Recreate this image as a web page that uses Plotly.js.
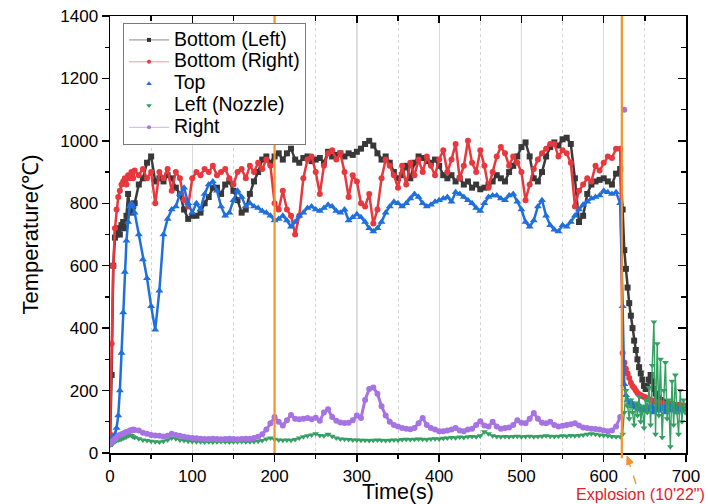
<!DOCTYPE html>
<html>
<head>
<meta charset="utf-8">
<script src="https://cdn.plot.ly/plotly-3.0.1.min.js"></script>
<style>
  html, body { margin: 0; padding: 0; background: #fff; }
  #chart { width: 708px; height: 504px; }
</style>
</head>
<body>
<div id="chart"></div>
<script>
// Time stamps (s): 2 s steps during heat-up, 5 s steps while burning, 2 s after the explosion
const timeS = [
  0, 2, 4, 6, 8, 10, 12, 14, 16, 18, 20, 22, 24, 26, 28, 30,
  35, 40, 45, 50, 55, 60, 65, 70, 75, 80, 85, 90, 95, 100,
  105, 110, 115, 120, 125, 130, 135, 140, 145, 150, 155, 160, 165, 170, 175, 180, 185, 190, 195, 200,
  205, 210, 215, 220, 225, 230, 235, 240, 245, 250, 255, 260, 265, 270, 275, 280, 285, 290, 295, 300,
  305, 310, 315, 320, 325, 330, 335, 340, 345, 350, 355, 360, 365, 370, 375, 380, 385, 390, 395, 400,
  405, 410, 415, 420, 425, 430, 435, 440, 445, 450, 455, 460, 465, 470, 475, 480, 485, 490, 495, 500,
  505, 510, 515, 520, 525, 530, 535, 540, 545, 550, 555, 560, 565, 570, 575, 580, 585, 590, 595, 600,
  605, 610, 615, 620,
  623, 625, 627, 629, 631, 633, 635, 637, 639, 641, 643, 645, 647, 649, 651, 653, 655, 657, 659, 661,
  663, 665, 667, 669, 671, 673, 675, 677, 679, 681, 683, 685, 687, 689, 691, 693, 695, 697, 699
];

// Temperatures (°C) per thermocouple
const tempBottomLeft = [
  30, 250, 600, 690, 700, 720, 700, 730, 740, 720, 760, 830, 790, 770, 790, 800,
  860, 880, 930, 950, 870, 880, 870, 890, 880, 850, 830, 780, 750, 760,
  760, 770, 800, 820, 850, 850, 830, 860, 870, 840, 810, 770, 780, 830, 870, 900, 940, 950, 930, 950,
  960, 940, 960, 975, 940, 930, 945, 950, 935, 940, 945, 930, 965, 950, 955, 960, 950, 960, 955, 965,
  975, 990, 1000, 985, 960, 940, 950, 930, 900, 880, 890, 920, 880, 930, 950, 945, 935, 930, 940, 920,
  890, 880, 890, 870, 880, 860, 870, 850, 860, 845, 850, 860, 870, 890, 880, 870, 900, 920, 950, 980,
  995, 950, 880, 870, 900, 950, 980, 995, 985, 1005, 1010, 990, 880, 740, 760, 830, 860, 870, 875, 880,
  870, 860, 895, 910,
  780, 650, 590, 530, 480, 440, 400, 360, 330, 300, 275, 255, 235, 215, 205, 210, 235, 250, 230, 205,
  190, 180, 175, 170, 165, 162, 160, 158, 156, 157, 155, 154, 153, 152, 152, 150, 150, 149, 148
];

const tempBottomRight = [
  60, 350, 600, 720, 780, 820, 840, 860, 870, 880, 860, 890, 880, 900, 880, 905,
  890, 910, 880, 900, 800, 900, 880, 910, 840, 900, 880, 810, 790, 880,
  900, 890, 910, 900, 920, 890, 900, 910, 880, 860, 900, 910, 880, 920, 900, 930, 910, 940, 920, 800,
  780, 840, 780, 760, 700, 760, 880, 940, 950, 900, 830, 920, 960, 970, 940, 960, 900, 820, 890, 870,
  800, 790, 830, 735, 780, 880, 940, 920, 890, 850, 920, 860, 930, 890, 940, 900, 950, 920, 890, 940,
  970, 900, 940, 990, 880, 920, 1000, 930, 900, 970, 920, 850, 900, 950, 980, 960, 920, 950, 930, 900,
  810, 860, 910, 940, 960, 975, 990, 990, 950, 970, 960, 930, 790, 840, 860, 880, 870, 920, 905, 930,
  950, 945, 975, 975,
  320, 290, 270, 255, 240, 225, 215, 208, 200, 192, 188, 185, 182, 180, 178, 175, 172, 170, 168, 165,
  163, 162, 160, 160, 158, 158, 157, 156, 156, 155, 155, 154, 154, 153, 153, 152, 152, 151, 151
];

const tempTop = [
  40, 45, 50, 60, 80, 120, 200, 320, 450, 580, 680, 740, 790, 800, 790, 770,
  700, 620, 560, 470, 395, 520, 700, 750, 780, 790, 830, 850, 800, 770,
  800, 780, 830, 860, 870, 840, 790, 760, 770, 810, 840, 820, 790, 800, 790, 785, 775, 770, 760, 745,
  750, 760, 745, 725, 740, 760, 770, 785, 790, 780, 775, 785, 795, 790, 775, 770, 780, 745, 755, 765,
  755, 740, 720, 710, 720, 740, 770, 790, 805, 800, 790, 800, 815, 830, 820, 800, 790, 795, 805, 810,
  815, 820, 805, 835, 830, 820, 810, 800, 785, 775, 800, 820, 825, 825, 815, 810, 825, 830, 805, 780,
  740, 725, 745, 790, 810, 760, 730, 715, 710, 730, 725, 740, 760, 780, 795, 805, 815, 820, 825, 840,
  835, 830, 835, 800,
  470, 220, 185, 170, 160, 165, 150, 155, 145, 150, 140, 148, 135, 145, 140, 150, 135, 145, 150, 130,
  140, 150, 135, 145, 140, 150, 130, 145, 140, 150, 135, 145, 150, 130, 140, 145, 135, 140, 138
];

const tempLeftNozzle = [
  25, 28, 32, 36, 40, 42, 43, 45, 48, 50, 52, 55, 58, 56, 52, 50,
  46, 42, 40, 38, 36, 35, 38, 42, 48, 46, 42, 40, 38, 37,
  36, 36, 35, 36, 35, 36, 37, 36, 35, 36, 36, 37, 36, 36, 37, 38, 40, 45, 48, 44,
  42, 41, 42, 41, 43, 48, 52, 55, 58, 62, 56, 55, 60, 54, 48, 45, 44, 43, 42, 42,
  41, 41, 40, 41, 42, 41, 40, 41, 42, 41, 43, 44, 43, 44, 45, 44, 43, 45, 46, 45,
  47, 48, 50, 49, 51, 50, 52, 53, 52, 55, 68, 62, 55, 53, 52, 53, 52, 53, 54, 52,
  53, 54, 52, 53, 54, 55, 54, 53, 54, 55, 54, 56, 55, 56, 58, 60, 62, 60, 58, 56,
  55, 53, 52, 52,
  60, 130, 200, 150, 110, 170, 130, 90, 160, 120, 180, 100, 150, 80, 170, 130, 210, 90, 280, 420,
  60, 350, 120, 300, 50, 200, 290, 110, 170, 20, 230, 90, 250, 130, 60, 200, 100, 170, 130
];

// The right-side sensor stops at the explosion; one stray reading follows it
const tempRight = [
  30, 35, 40, 45, 50, 55, 58, 60, 62, 65, 67, 68, 72, 73, 75, 74,
  72, 65, 62, 58, 56, 55, 53, 55, 62, 58, 55, 52, 50, 48,
  47, 46, 45, 45, 46, 45, 44, 45, 46, 45, 44, 45, 46, 46, 48, 52, 60, 75, 95, 115,
  100, 88, 105, 122, 110, 108, 110, 112, 108, 113, 103, 130, 140, 115, 103, 98, 96, 97, 105, 120,
  112, 170, 205, 210, 190, 150, 120, 100, 90, 85, 80, 78, 76, 80, 95, 112, 90, 80, 75, 70,
  70, 72, 75, 80, 72, 70, 75, 78, 90, 102, 88, 85, 100, 85, 78, 80, 82, 90, 105, 97,
  95, 110, 128, 110, 97, 95, 100, 90, 85, 87, 90, 92, 95, 88, 82, 80, 78, 77, 75, 72,
  70, 72, 85, 115,
  null, 1100
];

const seriesNames = ['Bottom (Left)', 'Bottom (Right)', 'Top', 'Left (Nozzle)', 'Right'];

// Event times (s)
const ignitionMarkTime = 200;
const explosionTime = 622;            // 10'22"
const explosionLabel = 'Explosion (10\'22")';
const darkGridTimes = [300, 500];

const FONT = 'Liberation Sans, Arial, Helvetica, sans-serif';
const W = 708, H = 504;
const M = { l: 110, r: 22, t: 16, b: 51 };
const PW = W - M.l - M.r, PH = H - M.t - M.b;
const toPaper = (px, py) => [(px - M.l) / PW, (H - M.b - py) / PH];

const COL = {
  black: '#3b3b3b', red: '#e8383d', blue: '#1f6fdc', green: '#34a062', purple: '#a673e2',
  orange: '#f5902a', label: '#e8202a'
};

const styles = [
  { line: { color: COL.black, width: 2.5 }, marker: { symbol: 'square', size: 6, color: '#383838' } },
  { line: { color: COL.red, width: 2.5 }, marker: { symbol: 'circle', size: 6, color: COL.red } },
  { line: { color: COL.blue, width: 2.5 }, marker: { symbol: 'triangle-up', size: 7, color: COL.blue } },
  { line: { color: COL.green, width: 1.4 }, marker: { symbol: 'triangle-down', size: 6, color: COL.green } },
  { line: { color: COL.purple, width: 3 }, marker: { symbol: 'circle', size: 6, color: COL.purple } }
];
const values = [tempBottomLeft, tempBottomRight, tempTop, tempLeftNozzle, tempRight];

// legend keys: thin connecting line for the bottom and right sensors, symbol only for the others
const legendKeys = [
  { mode: 'lines+markers', line: { color: '#8a8a8a', width: 1 }, marker: { symbol: 'square', size: 4, color: '#333' } },
  { mode: 'lines+markers', line: { color: '#f29aa2', width: 1 }, marker: { symbol: 'circle', size: 4, color: COL.red } },
  { mode: 'markers', marker: { symbol: 'triangle-up', size: 5, color: COL.blue } },
  { mode: 'markers', marker: { symbol: 'triangle-down', size: 5, color: COL.green } },
  { mode: 'lines+markers', line: { color: '#cdb2f0', width: 1 }, marker: { symbol: 'circle', size: 4, color: COL.purple } }
];

const traces = [];
// frame axes on top / right
traces.push({ x: [null], y: [null], xaxis: 'x2', yaxis: 'y2', mode: 'markers', showlegend: false, hoverinfo: 'skip' });

values.forEach((ys, i) => {
  traces.push({
    type: 'scatter', mode: 'lines+markers', x: timeS, y: ys,
    name: seriesNames[i], showlegend: false, connectgaps: false,
    line: styles[i].line, marker: styles[i].marker
  });
});
legendKeys.forEach((k, i) => {
  traces.push(Object.assign({
    type: 'scatter', x: [null], y: [null], showlegend: true,
    name: '<span style="font-size:19.5px">' + seriesNames[i] + '</span>'
  }, k));
});

// dashed pointer from the label to the explosion time
const tip = toPaper(627, 456), tail = toPaper(636, 484);
const headA = toPaper(633.2, 462.5), headB = toPaper(626.8, 465.0);

const shapes = [];
darkGridTimes.forEach(t => shapes.push({
  type: 'line', xref: 'x', yref: 'paper', x0: t, x1: t, y0: 0, y1: 1,
  line: { color: '#a9a9a9', width: 1 }, layer: 'below'
}));
shapes.push({ type: 'line', xref: 'x', yref: 'paper', x0: ignitionMarkTime, x1: ignitionMarkTime, y0: 0, y1: 1,
  line: { color: COL.orange, width: 2.2 }, layer: 'above' });
shapes.push({ type: 'line', xref: 'x', yref: 'paper', x0: explosionTime, x1: explosionTime, y0: -0.012, y1: 1,
  line: { color: COL.orange, width: 2.2 }, layer: 'above' });
shapes.push({ type: 'line', xref: 'paper', yref: 'paper', x0: tail[0], y0: tail[1], x1: tip[0], y1: tip[1],
  line: { color: COL.orange, width: 1.3, dash: 'dash' } });
shapes.push({ type: 'path', xref: 'paper', yref: 'paper',
  path: `M${tip[0]},${tip[1]} L${headA[0]},${headA[1]} L${headB[0]},${headB[1]} Z`,
  fillcolor: COL.orange, line: { color: COL.orange, width: 1 } });

const tickFont = { family: FONT, size: 17, color: '#000' };
const frame = { showline: true, linecolor: '#000', linewidth: 1.5, tickcolor: '#000', tickwidth: 1.3, zeroline: false };

const layout = {
  width: W, height: H, margin: M,
  paper_bgcolor: '#fff', plot_bgcolor: '#fff',
  font: { family: FONT, color: '#000' },
  hovermode: false,
  showlegend: true,
  legend: {
    x: toPaper(123, 0)[0], y: toPaper(0, 23)[1], xanchor: 'left', yanchor: 'top',
    bgcolor: '#fff', bordercolor: '#7a7a7a', borderwidth: 1,
    font: { family: FONT, size: 14.5, color: '#000' }, tracegroupgap: 0, itemwidth: 40
  },
  xaxis: Object.assign({}, frame, {
    range: [0, 700], tick0: 0, dtick: 100, ticks: 'outside', ticklen: 7,
    showgrid: true, gridcolor: '#dadada', gridwidth: 1,
    minor: { dtick: 50, ticks: 'outside', ticklen: 4, tickcolor: '#000', showgrid: true, gridcolor: '#d4d4d4', griddash: 'dot' },
    tickfont: tickFont,
    title: { text: 'Time(s)', font: { family: FONT, size: 21.5, color: '#000' }, standoff: 9 }
  }),
  yaxis: Object.assign({}, frame, {
    range: [0, 1400], tick0: 0, dtick: 200, ticks: 'outside', ticklen: 7, showgrid: false,
    minor: { dtick: 100, ticks: 'outside', ticklen: 4, tickcolor: '#000' },
    tickfont: tickFont,
    title: { text: 'Temperature(℃)', font: { family: FONT, size: 22, color: '#000' }, standoff: 15 }
  }),
  xaxis2: Object.assign({}, frame, {
    overlaying: 'x', side: 'top', anchor: 'y', range: [0, 700], tick0: 0, dtick: 100,
    ticks: 'inside', ticklen: 7, showticklabels: false, showgrid: false,
    minor: { dtick: 50, ticks: 'inside', ticklen: 5, tickcolor: '#000' }
  }),
  yaxis2: Object.assign({}, frame, {
    overlaying: 'y', side: 'right', anchor: 'x', range: [0, 1400], tick0: 0, dtick: 200,
    ticks: 'inside', ticklen: 8, showticklabels: false, showgrid: false,
    minor: { dtick: 100, ticks: 'inside', ticklen: 5, tickcolor: '#000' }
  }),
  shapes: shapes,
  annotations: [{
    text: explosionLabel, xref: 'paper', yref: 'paper',
    x: toPaper(707, 0)[0], y: toPaper(0, 494)[1], xanchor: 'right', yanchor: 'middle',
    showarrow: false, font: { family: FONT, size: 16, color: COL.label }
  }]
};

Plotly.newPlot('chart', traces, layout, { staticPlot: true, displayModeBar: false });
</script>
</body>
</html>
